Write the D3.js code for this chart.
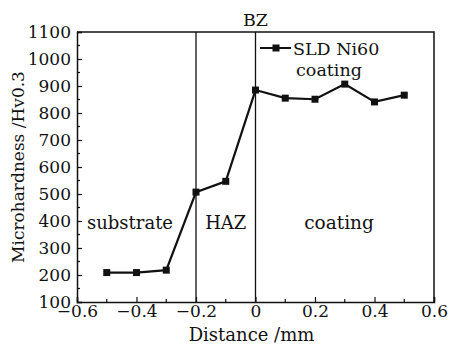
<!DOCTYPE html>
<html>
<head>
<meta charset="utf-8">
<script src="https://cdn.jsdelivr.net/npm/d3@7"></script>
<style>
  body { margin: 0; background: #fff; }
  svg { display: block; }
  text { font-family: "DejaVu Serif", serif; fill: #111; }
</style>
</head>
<body>
<div id="chart"></div>
<script>
var width = 451;
var height = 345;

// data
var distance = [-0.5, -0.4, -0.3, -0.2, -0.1, 0, 0.1, 0.2, 0.3, 0.4, 0.5];
var hardness = [209, 209, 218, 507, 547, 885, 855, 851, 907, 841, 866];
var xTicks = [-0.6, -0.4, -0.2, 0, 0.2, 0.4, 0.6];
var yTicks = [100, 200, 300, 400, 500, 600, 700, 800, 900, 1000, 1100];
var boundaries = [-0.2, 0];
var seriesName = ["SLD Ni60", "coating"];

var margin = {left: 77, right: 17, top: 32, bottom: 43};

var svg = d3.select("#chart")
    .append("svg")
      .attr("width", width)
      .attr("height", height)

var x = d3.scaleLinear().domain([-0.6, 0.6]).range([margin.left, width - margin.right]);
var y = d3.scaleLinear().domain([100, 1100]).range([height - margin.bottom, margin.top]);

var fmt = function(d) { return d === 0 ? "0" : d3.format(".1f")(d).replace("-", "\u2212"); };

//bottom axis, ticks inside
var xAxis = svg.append("g")
    .attr("transform", "translate(0," + y(100) + ")")
    .call(d3.axisBottom(x).tickValues(xTicks).tickSize(-5).tickPadding(3).tickFormat(fmt));
xAxis.selectAll(".tick text").attr("font-size", 17);

//minor x ticks
svg.append("g").selectAll("line")
    .data(d3.range(-0.5, 0.6, 0.2))
    .join("line")
      .attr("x1", d => x(d)).attr("x2", d => x(d))
      .attr("y1", y(100)).attr("y2", y(100) - 3)
      .attr("stroke", "#111").attr("stroke-width", 1.2);

//left axis
var yAxis = svg.append("g")
    .attr("transform", "translate(" + x(-0.6) + ",0)")
    .call(d3.axisLeft(y).tickValues(yTicks).tickSize(-5).tickPadding(6).tickFormat(d3.format("d")));
yAxis.selectAll(".tick text").attr("font-size", 17).attr("dy", "0.3em");

svg.append("g").selectAll("line")
    .data(d3.range(150, 1100, 100))
    .join("line")
      .attr("x1", x(-0.6)).attr("x2", x(-0.6) + 3)
      .attr("y1", d => y(d)).attr("y2", d => y(d))
      .attr("stroke", "#111").attr("stroke-width", 1.2);

svg.selectAll(".domain").attr("stroke", "#111").attr("stroke-width", 1.5);
svg.selectAll(".tick line").attr("stroke", "#111").attr("stroke-width", 1.2);

//frame top and right
svg.append("path")
    .attr("d", "M" + x(-0.6) + "," + y(1100) + "H" + x(0.6) + "V" + y(100))
    .attr("fill", "none").attr("stroke", "#111").attr("stroke-width", 1.5);

//zone boundaries
svg.append("g").selectAll("line")
    .data(boundaries)
    .join("line")
      .attr("x1", d => x(d)).attr("x2", d => x(d))
      .attr("y1", y(1100)).attr("y2", y(100))
      .attr("stroke", "#111").attr("stroke-width", 1.3);

//series
var pts = distance.map(function(d, i) { return [d, hardness[i]]; });
svg.append("path")
    .datum(pts)
    .attr("fill", "none")
    .attr("stroke", "#111")
    .attr("stroke-width", 2.2)
    .attr("d", d3.line().x(d => x(d[0])).y(d => y(d[1])));

svg.append("g").selectAll("rect")
    .data(pts)
    .join("rect")
      .attr("x", d => x(d[0]) - 3.5).attr("y", d => y(d[1]) - 3.5)
      .attr("width", 7).attr("height", 7)
      .attr("fill", "#111");

//legend
var lg = svg.append("g");
lg.append("line").attr("x1", 260).attr("x2", 291).attr("y1", 48).attr("y2", 48)
    .attr("stroke", "#111").attr("stroke-width", 2);
lg.append("rect").attr("x", 272.5).attr("y", 44.5).attr("width", 7).attr("height", 7).attr("fill", "#111");
lg.append("text").attr("x", 293).attr("y", 55).attr("font-size", 17.5).text(seriesName[0]);
lg.append("text").attr("x", 329).attr("y", 76).attr("font-size", 17.5).attr("text-anchor", "middle").text(seriesName[1]);

//zone labels
svg.append("text").attr("x", x(0)).attr("y", 26).attr("text-anchor", "middle").attr("font-size", 17.5).text("BZ");
svg.append("text").attr("x", 130).attr("y", 229).attr("text-anchor", "middle").attr("font-size", 18).text("substrate");
svg.append("text").attr("x", x(-0.1)).attr("y", 229).attr("text-anchor", "middle").attr("font-size", 18).text("HAZ");
svg.append("text").attr("x", 339).attr("y", 229).attr("text-anchor", "middle").attr("font-size", 18.5).text("coating");

//axis titles
svg.append("text").attr("x", x(0) - 4).attr("y", 341).attr("text-anchor", "middle").attr("font-size", 18).text("Distance /mm");
svg.append("text")
    .attr("transform", "translate(24," + ((y(100) + y(1100)) / 2) + ") rotate(-90)")
    .attr("text-anchor", "middle").attr("font-size", 17).text("Microhardness /Hv0.3");
</script>
</body>
</html>
